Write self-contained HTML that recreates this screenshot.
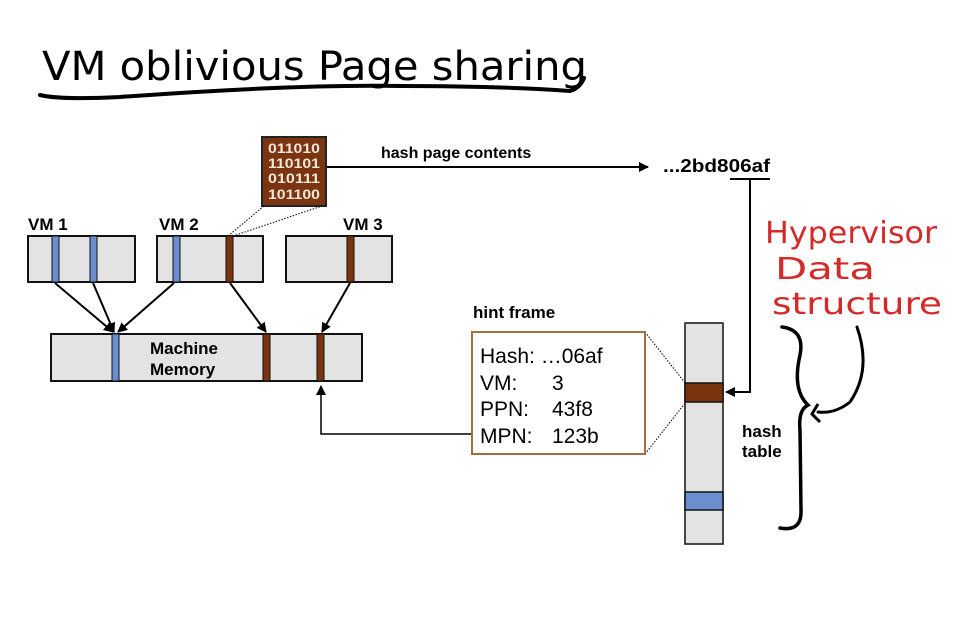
<!DOCTYPE html>
<html><head><meta charset="utf-8"><style>
body{margin:0;background:#fff;}
svg{display:block;}
.b{font-family:"Liberation Sans",Arial,sans-serif;font-weight:bold;}
.h{font-family:"Liberation Sans",sans-serif;}
</style></head><body>
<svg width="976" height="618" viewBox="0 0 976 618" xmlns="http://www.w3.org/2000/svg">
<defs><marker id="a" markerWidth="10" markerHeight="10" refX="9" refY="5" orient="auto" markerUnits="userSpaceOnUse"><path d="M0,0 L10,5 L0,10 z" fill="#000"/></marker></defs>
<text x="42" y="80" font-family="'DejaVu Sans Condensed','DejaVu Sans',sans-serif" font-size="40" fill="#000" textLength="545" lengthAdjust="spacingAndGlyphs">VM oblivious Page sharing</text>
<path d="M40,95 Q60,100 120,97 Q300,84 400,86 Q500,86 570,91 Q580,88 584,78" stroke="#000" stroke-width="4" fill="none" stroke-linecap="round"/>
<rect x="262" y="137" width="64" height="69" fill="#7a3510" stroke="#222" stroke-width="2"/>
<g class="h" font-size="14" fill="#f3e6d6" font-weight="bold">
<text x="268" y="153" textLength="52" lengthAdjust="spacingAndGlyphs">011010</text><text x="268" y="168" textLength="52" lengthAdjust="spacingAndGlyphs">110101</text><text x="268" y="183" textLength="52" lengthAdjust="spacingAndGlyphs">010111</text><text x="268" y="199" textLength="52" lengthAdjust="spacingAndGlyphs">101100</text></g>
<line x1="327" y1="167" x2="648" y2="167" stroke="#000" stroke-width="2" marker-end="url(#a)"/>
<text x="381" y="158" class="b" font-size="16">hash page contents</text>
<text x="663" y="172" class="b" font-size="18" textLength="107" lengthAdjust="spacingAndGlyphs">...2bd806af</text>
<line x1="730" y1="179" x2="770" y2="179" stroke="#000" stroke-width="2"/>
<polyline points="750,179 750,392 726,392" fill="none" stroke="#000" stroke-width="2" marker-end="url(#a)"/>
<line x1="228" y1="236" x2="264" y2="206" stroke="#000" stroke-dasharray="1.5,1.5"/>
<line x1="233" y1="236" x2="322" y2="206" stroke="#000" stroke-dasharray="1.5,1.5"/>
<g class="b" font-size="17"><text x="28" y="230">VM 1</text><text x="159" y="230">VM 2</text><text x="343" y="230">VM 3</text></g>
<g stroke="#111" stroke-width="2">
<rect x="28" y="236" width="107" height="46" fill="#e3e3e3"/>
<rect x="157" y="236" width="106" height="46" fill="#e3e3e3"/>
<rect x="286" y="236" width="106" height="46" fill="#e3e3e3"/>
<rect x="52" y="236" width="7" height="46" fill="#6b8ed0" stroke-width="1"/>
<rect x="90" y="236" width="7" height="46" fill="#6b8ed0" stroke-width="1"/>
<rect x="173" y="236" width="7" height="46" fill="#6b8ed0" stroke-width="1"/>
<rect x="226" y="236" width="7" height="46" fill="#7a3510" stroke-width="1"/>
<rect x="347" y="236" width="7" height="46" fill="#7a3510" stroke-width="1"/>
<rect x="51" y="334" width="311" height="47" fill="#e3e3e3"/>
<rect x="112" y="334" width="7" height="47" fill="#6b8ed0" stroke-width="1"/>
<rect x="263" y="334" width="7" height="47" fill="#7a3510" stroke-width="1"/>
<rect x="317" y="334" width="7" height="47" fill="#7a3510" stroke-width="1"/>
</g>
<g class="b" font-size="17"><text x="150" y="354">Machine</text><text x="150" y="375">Memory</text></g>
<g stroke="#000" stroke-width="2" marker-end="url(#a)">
<line x1="55" y1="283" x2="113" y2="332"/>
<line x1="93" y1="283" x2="114" y2="332"/>
<line x1="174" y1="283" x2="118" y2="332"/>
<line x1="230" y1="283" x2="266" y2="332"/>
<line x1="350" y1="283" x2="322" y2="332"/>
</g>
<polyline points="472,434 321,434 321,386" fill="none" stroke="#000" stroke-width="1.5" marker-end="url(#a)"/>
<text x="473" y="318" class="b" font-size="17">hint frame</text>
<line x1="645" y1="332" x2="686" y2="384" stroke="#000" stroke-dasharray="1.5,1.5"/>
<line x1="645" y1="454" x2="686" y2="402" stroke="#000" stroke-dasharray="1.5,1.5"/>
<rect x="472" y="332" width="173" height="122" fill="#fff" stroke="#a07040" stroke-width="2"/>
<g class="h" font-size="21"><text x="480" y="363">Hash: …06af</text><text x="480" y="390">VM:</text><text x="552" y="390">3</text><text x="480" y="416">PPN:</text><text x="552" y="416">43f8</text><text x="480" y="443">MPN:</text><text x="552" y="443">123b</text></g>
<g stroke="#111" stroke-width="1.5">
<rect x="685" y="323" width="38" height="221" fill="#e3e3e3"/>
<rect x="685" y="383" width="38" height="19" fill="#7a3510"/>
<rect x="685" y="492" width="38" height="18" fill="#6b8ed0"/>
</g>
<g class="b" font-size="17"><text x="742" y="437">hash</text><text x="742" y="457">table</text></g>
<g font-family="'DejaVu Sans Condensed','DejaVu Sans',sans-serif" fill="#d42a2a" font-size="30">
<text x="765" y="243" textLength="172" lengthAdjust="spacingAndGlyphs">Hypervisor</text>
<text x="775" y="279" textLength="100" lengthAdjust="spacingAndGlyphs">Data</text>
<text x="772" y="314" textLength="170" lengthAdjust="spacingAndGlyphs">structure</text>
</g>
<path d="M782,327 Q805,330 800,355 Q792,390 808,405 Q798,410 800,430 L801,510 Q802,532 780,528" stroke="#000" stroke-width="3.5" fill="none" stroke-linecap="round"/>
<path d="M857,327 Q872,370 850,402 Q835,414 818,412" stroke="#000" stroke-width="3" fill="none" stroke-linecap="round"/>
<path d="M818,404 L812,414 L820,422" stroke="#000" stroke-width="3" fill="none"/>
</svg>
</body></html>
